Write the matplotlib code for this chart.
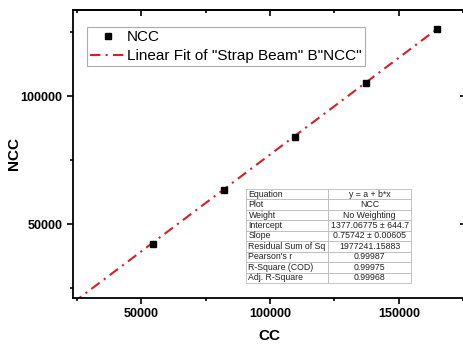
import matplotlib
matplotlib.use("Agg")
import matplotlib.pyplot as plt
import numpy as np

plt.rcParams['font.family'] = ['Liberation Sans', 'DejaVu Sans']

# data
cc = [54600, 82300, 109800, 137300, 164900]
ncc = [42300, 63300, 84000, 105100, 126100]

intercept = 1377.06775
slope = 0.75742

stat_names = ["Equation", "Plot", "Weight", "Intercept", "Slope",
              "Residual Sum of Sq", "Pearson's r", "R-Square (COD)", "Adj. R-Square"]
stat_values = ["y = a + b*x", "NCC", "No Weighting", "1377.06775 \u00b1 644.7",
               "0.75742 \u00b1 0.00605", "1977241.15883", "0.99987", "0.99975", "0.99968"]

fit_c = "#D42027"

fig = plt.figure(figsize=(4.64, 3.49), dpi=100)
ax = fig.add_axes([73 / 464, 1 - 298 / 349, (466 - 73) / 464, (298 - 10) / 349])

xmin, xmax = 23600, 176000
ymin, ymax = 21100, 133600

# fit line across from axis start to last point
fx = np.array([xmin, max(cc)])
ax.plot(fx, intercept + slope * fx, color=fit_c, lw=1.5,
        linestyle=(0, (5, 2.5, 1, 2.5)), label='Linear Fit of "Strap Beam" B"NCC"', zorder=2)
ax.plot(cc, ncc, linestyle='none', marker='s', markersize=5, color='black', label='NCC', zorder=3)

ax.set_xlim(xmin, xmax)
ax.set_ylim(ymin, ymax)

xmaj = [50000, 100000, 150000]
xmin_t = [25000, 75000, 125000, 175000]
ymaj = [50000, 100000]
ymin_t = [25000, 75000, 125000]

ax.set_xticks(xmaj)
ax.set_xticks(xmin_t, minor=True)
ax.set_yticks(ymaj)
ax.set_yticks(ymin_t, minor=True)

for sp in ax.spines.values():
    sp.set_linewidth(1.3)

ax.tick_params(which='both', direction='out', width=1.2)
ax.tick_params(which='major', length=4, labelsize=9)
ax.tick_params(which='minor', length=2.5)
for lab in ax.get_xticklabels() + ax.get_yticklabels():
    lab.set_fontweight('bold')

# top / right ticks point inward
top = ax.secondary_xaxis('top')
top.set_xticks(xmaj)
top.set_xticks(xmin_t, minor=True)
top.tick_params(which='both', direction='in', width=1.2, labeltop=False)
top.tick_params(which='major', length=4)
top.tick_params(which='minor', length=2.5)
right = ax.secondary_yaxis('right')
right.set_yticks(ymaj)
right.set_yticks(ymin_t, minor=True)
right.tick_params(which='both', direction='in', width=1.2, labelright=False)
right.tick_params(which='major', length=4)
right.tick_params(which='minor', length=2.5)
for s in top.spines.values():
    s.set_linewidth(1.3)
for s in right.spines.values():
    s.set_linewidth(1.3)

ax.set_xlabel('CC', fontsize=11, fontweight='bold', labelpad=6)
ax.set_ylabel('NCC', fontsize=11, fontweight='bold')
ax.yaxis.set_label_coords((21 - 73) / 393, 0.5)

handles, labels = ax.get_legend_handles_labels()
leg = ax.legend(handles[::-1], labels[::-1], loc='upper left', bbox_to_anchor=((87 - 73) / 393, (298 - 27) / 288),
                fontsize=11, frameon=True, fancybox=False, edgecolor='#999999',
                borderpad=0.2, labelspacing=0.35, handlelength=2.3, handletextpad=0.12,
                borderaxespad=0)
leg.get_frame().set_linewidth(0.8)

# stats table
tbl = ax.table(cellText=[[n, v] for n, v in zip(stat_names, stat_values)],
               colWidths=[0.5, 0.5],
               bbox=[(246 - 73) / 393, (298 - 283) / 288, (411 - 246) / 393, (283 - 189) / 288],
               zorder=4)
tbl.auto_set_font_size(False)
tbl.set_fontsize(6.3)
for (r, c), cell in tbl.get_celld().items():
    cell.set_edgecolor('#BBBBBB')
    cell.set_linewidth(0.6)
    cell.set_facecolor('white')
    cell.get_text().set_color('#222222')
    if c == 0:
        cell.PAD = 0.03
        cell._loc = 'left'
        cell.get_text().set_ha('left')
    else:
        cell._loc = 'center'
        cell.get_text().set_ha('center')

fig.savefig('out.png', dpi=100)
